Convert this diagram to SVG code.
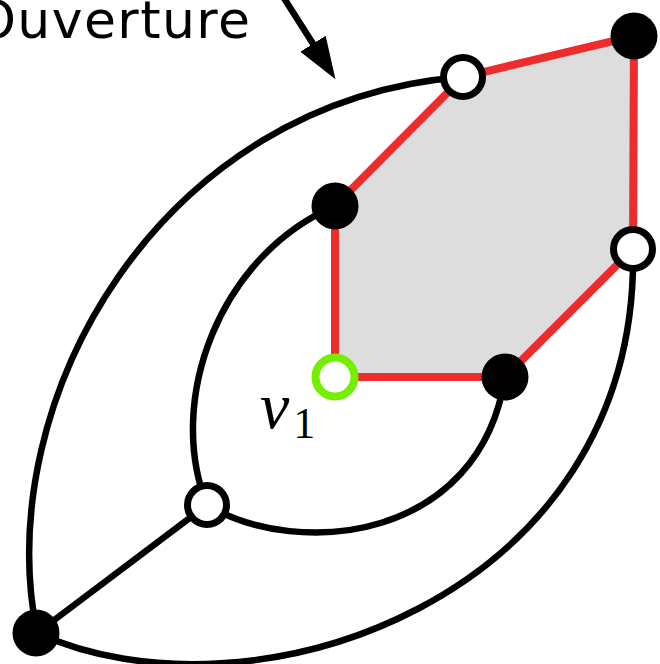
<svg xmlns="http://www.w3.org/2000/svg" width="660" height="664" viewBox="0 0 660 664">
  <style>
    .edge { fill: none; stroke: #000; stroke-width: 6.5; }
    .face { fill: #dddddd; stroke: #ee2c2c; stroke-width: 8; stroke-linejoin: miter; }
    .black { fill: #000; }
    .open { fill: #fff; stroke: #000; stroke-width: 7; }
    .green { fill: #fff; stroke: #76ee00; stroke-width: 8; }
    .label { font-family: "DejaVu Sans", "Liberation Sans", sans-serif; font-size: 52px; fill: #000; }
    .math { font-family: "Liberation Serif", "DejaVu Serif", serif; fill: #000; }
  </style>
  <defs>
    <marker id="arrow" viewBox="0 0 42 30" refX="1" refY="15" markerWidth="42" markerHeight="30" markerUnits="userSpaceOnUse" orient="auto">
      <path d="M0,0 L42,15 L0,30 Z" fill="#000"/>
    </marker>
  </defs>

  <g id="face">
    <polygon class="face" points="335,377 335,206 463,77 634,36 633,249 505,377"/>
  </g>

  <g id="connectors">
    <path class="edge" d="M37,633 C-10,400 160,100 463,77"/>
    <path class="edge" d="M37,633 C250,730 640,600 633,249"/>
    <path class="edge" d="M335,206 C220,255 165,400 207,505"/>
    <path class="edge" d="M207,505 C300,560 480,540 505,377"/>
    <path class="edge" d="M37,633 L207,505"/>
    <path class="edge" d="M282,-5 L313.5,44.6" marker-end="url(#arrow)"/>
  </g>

  <g id="n_tr"><circle class="black" cx="634" cy="36" r="23.5"/></g>
  <g id="n_top"><circle class="open" cx="463" cy="77" r="19.5"/></g>
  <g id="n_mid"><circle class="black" cx="335" cy="206" r="23.5"/></g>
  <g id="n_right"><circle class="open" cx="633" cy="249" r="19.5"/></g>
  <g id="n_v1"><circle class="green" cx="335" cy="377" r="19.5"/></g>
  <g id="n_br"><circle class="black" cx="505" cy="377" r="23.5"/></g>
  <g id="n_inner"><circle class="open" cx="207" cy="505" r="19.5"/></g>
  <g id="n_bl"><circle class="black" cx="36" cy="633" r="23.5"/></g>

  <g id="label_ouverture">
    <text class="label" x="-25" y="38" textLength="275" lengthAdjust="spacing">Ouverture</text>
  </g>
  <g id="label_v1">
    <text class="math" x="260" y="428" font-size="66" font-style="italic">v<tspan font-style="normal" font-size="44" dx="4" dy="10">1</tspan></text>
  </g>
</svg>
